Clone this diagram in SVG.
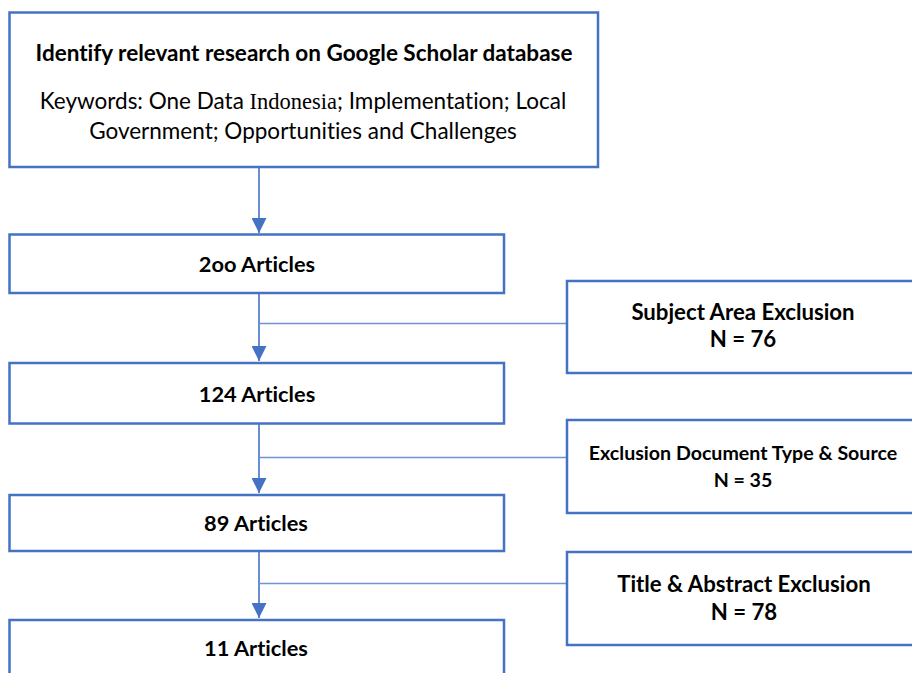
<svg xmlns="http://www.w3.org/2000/svg" width="912" height="673" viewBox="0 0 912 673">
<defs>
<style>
.box{fill:#fff;stroke:#4472C4;stroke-width:2.5}
.conn{stroke:#4472C4;stroke-width:1.6;fill:none}
.br{stroke:#6F93D3;stroke-width:1.3;fill:none}
.t{font-family:Lato,"Liberation Sans",sans-serif;fill:#000;text-anchor:middle;font-variant-ligatures:none;font-feature-settings:"liga" 0,"clig" 0}
.b{font-weight:bold}
</style>
<marker id="ah" markerWidth="15" markerHeight="15" refX="15" refY="7.5" orient="auto" markerUnits="userSpaceOnUse">
<path d="M0,0 L15,7.5 L0,15 Z" fill="#4472C4"/>
</marker>
</defs>
<rect width="912" height="673" fill="#fff"/>
<g id="connectors">
<line class="conn" x1="259" y1="167" x2="259" y2="233" marker-end="url(#ah)"/>
<line class="conn" x1="259" y1="293" x2="259" y2="361" marker-end="url(#ah)"/>
<line class="conn" x1="259" y1="424" x2="259" y2="493" marker-end="url(#ah)"/>
<line class="conn" x1="259" y1="551" x2="259" y2="618" marker-end="url(#ah)"/>
<line class="br" x1="259" y1="323.5" x2="567" y2="323.5"/>
<line class="br" x1="259" y1="457.5" x2="567" y2="457.5"/>
<line class="br" x1="259" y1="583.5" x2="567" y2="583.5"/>
</g>
<g id="identify">
<rect class="box" x="9.5" y="12.5" width="588.5" height="154.5"/>
<text class="t b" x="304" y="61" font-size="22.5">Identify relevant research on Google Scholar database</text>
<text class="t" x="303" y="109" font-size="22.5">Keywords: One Data <tspan font-family="'Liberation Serif',serif">Indonesia</tspan>; Implementation; Local</text>
<text class="t" x="303" y="139" font-size="22.5">Government; Opportunities and Challenges</text>
</g>
<g id="n200">
<rect class="box" x="9.5" y="234.5" width="494.5" height="58.5"/>
<text class="t b" x="257" y="272" font-size="21.8">2oo Articles</text>
</g>
<g id="n124">
<rect class="box" x="9.5" y="363" width="494.5" height="60.5"/>
<text class="t b" x="257" y="402" font-size="21.8">124 Articles</text>
</g>
<g id="n89">
<rect class="box" x="9.5" y="495" width="494.5" height="56"/>
<text class="t b" x="256" y="531" font-size="21.8">89 Articles</text>
</g>
<g id="n11">
<rect class="box" x="9.5" y="620" width="494.5" height="70"/>
<text class="t b" x="256" y="656" font-size="21.8">11 Articles</text>
</g>
<g id="subject">
<rect class="box" x="567" y="281" width="360" height="92"/>
<text class="t b" x="743" y="320" font-size="22.2">Subject Area Exclusion</text>
<text class="t b" x="743" y="347" font-size="22.2">N = 76</text>
</g>
<g id="doctype">
<rect class="box" x="567" y="420" width="360" height="93"/>
<text class="t b" x="743" y="460" font-size="19.6">Exclusion Document Type &amp; Source</text>
<text class="t b" x="743" y="487" font-size="19.6">N = 35</text>
</g>
<g id="titleabs">
<rect class="box" x="567" y="552" width="360" height="93"/>
<text class="t b" x="744" y="592" font-size="22.2">Title &amp; Abstract Exclusion</text>
<text class="t b" x="744" y="620" font-size="22.2">N = 78</text>
</g>
</svg>
